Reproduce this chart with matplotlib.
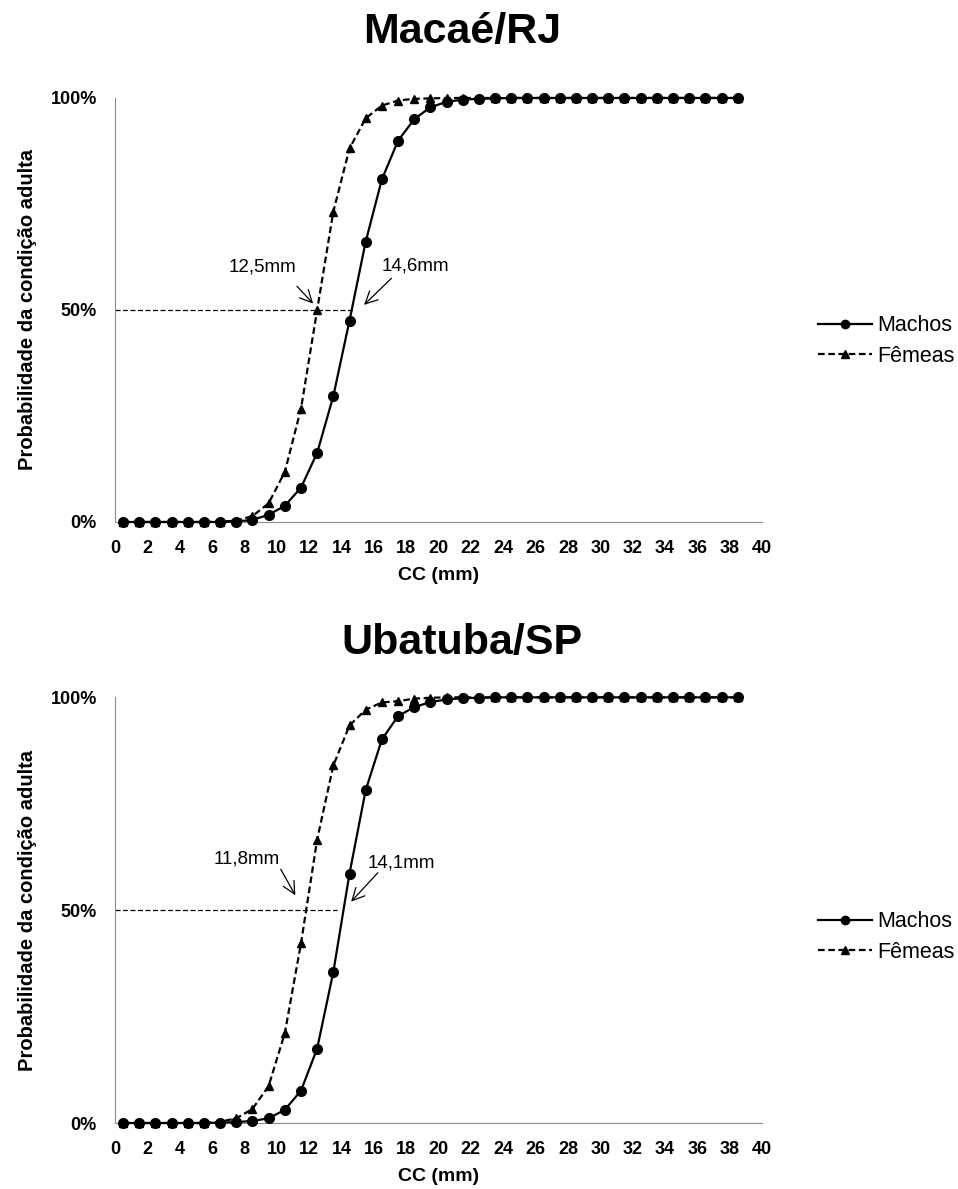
import matplotlib
matplotlib.use("Agg")
from matplotlib import pyplot as plt
from matplotlib.lines import Line2D

plt.rcParams['font.family'] = ['Liberation Sans', 'DejaVu Sans']

# comprimento de carapaça (mm), centro de cada classe
cc = [i + 0.5 for i in range(39)]

# Macaé/RJ
macae_machos = [0, 0, 0, 0, 0, 0, 0, 0.001, 0.005, 0.017, 0.038, 0.081, 0.163, 0.297,
                0.475, 0.661, 0.808, 0.899, 0.950, 0.978, 0.991, 0.996, 0.998, 0.999] + [1.0] * 15
macae_femeas = [0, 0, 0, 0, 0, 0, 0.001, 0.003, 0.014, 0.044, 0.118, 0.267, 0.500, 0.732,
                0.881, 0.952, 0.982, 0.994, 0.998, 0.999] + [1.0] * 19

# Ubatuba/SP
ubatuba_machos = [0, 0, 0, 0, 0, 0, 0.001, 0.002, 0.005, 0.011, 0.031, 0.076, 0.175, 0.355,
                  0.586, 0.782, 0.901, 0.956, 0.977, 0.989, 0.995, 0.998, 0.999] + [1.0] * 16
ubatuba_femeas = [0, 0, 0, 0, 0, 0, 0.003, 0.011, 0.033, 0.087, 0.211, 0.422, 0.666, 0.840,
                  0.934, 0.971, 0.988, 0.991, 0.997, 0.999] + [1.0] * 19

titles = ["Macaé/RJ", "Ubatuba/SP"]
l50_machos = ["14,6mm", "14,1mm"]
l50_femeas = ["12,5mm", "11,8mm"]
hline_end = [14.7, 13.7]

# posições das anotações (texto, cauda da seta, ponta da seta)
ann_femeas = [((9.1, 0.602), (11.25, 0.556), (12.25, 0.515)),
              ((8.15, 0.621), (10.25, 0.596), (11.15, 0.535))]
ann_machos = [((18.6, 0.604), (17.1, 0.575), (15.4, 0.512)),
              ((17.7, 0.612), (16.25, 0.588), (14.6, 0.52))]

fig = plt.figure(figsize=(9.58, 11.89), dpi=100)
ax1 = fig.add_axes([0.120, 0.561, 0.6754, 0.3566])
ax2 = fig.add_axes([0.120, 0.0555, 0.6754, 0.358])

series = [(macae_machos, macae_femeas), (ubatuba_machos, ubatuba_femeas)]
title_y = [1 - 32 / 1189, 1 - 643 / 1189]
legend_y = [0.427, 0.437]
axis_gray = "#8c8c8c"

for k, ax in enumerate([ax1, ax2]):
    machos, femeas = series[k]
    ax.plot(cc, machos, color="black", lw=1.6, marker="o", markersize=7,
            clip_on=False, zorder=4)
    ax.plot(cc, femeas, color="black", lw=1.6, ls=(0, (3, 1.6)), marker="^",
            markersize=6.3, clip_on=False, zorder=3)
    ax.plot([0, hline_end[k]], [0.5, 0.5], color="black", lw=0.9, ls=(0, (4, 2)), zorder=2)

    for txt, ann in [(l50_femeas[k], ann_femeas[k]), (l50_machos[k], ann_machos[k])]:
        ax.text(ann[0][0], ann[0][1], txt, fontsize=13.5, ha="center", va="center")
        ax.annotate("", xy=ann[2], xytext=ann[1],
                    arrowprops=dict(arrowstyle="->", color="black", lw=0.9,
                                    mutation_scale=22, shrinkA=0, shrinkB=0))

    ax.set_xlim(0, 40)
    ax.set_ylim(0, 1)
    ax.set_xticks(range(0, 41, 2))
    ax.set_yticks([0, 0.5, 1])
    ax.set_yticklabels(["0%", "50%", "100%"])
    ax.tick_params(length=0, labelsize=13)
    ax.tick_params(axis="x", pad=13)
    ax.tick_params(axis="y", pad=13)
    for lab in ax.get_xticklabels() + ax.get_yticklabels():
        lab.set_fontweight("bold")
    ax.spines["top"].set_visible(False)
    ax.spines["right"].set_visible(False)
    ax.spines["left"].set_color(axis_gray)
    ax.spines["bottom"].set_color(axis_gray)
    ax.set_xlabel("CC (mm)", fontsize=14, fontweight="bold", labelpad=7)
    ax.set_ylabel("Probabilidade da condição adulta", fontsize=14.5, fontweight="bold",
                  labelpad=10)

    fig.text(0.482, title_y[k], titles[k], fontsize=31, fontweight="bold",
             ha="center", va="center")

    handles = [Line2D([], [], color="black", lw=1.6, marker="o", markersize=6),
               Line2D([], [], color="black", lw=1.6, ls=(0, (3, 1.6)), marker="^", markersize=6)]
    ax.legend(handles, ["Machos", "Fêmeas"], loc="center left",
              bbox_to_anchor=(1.057, legend_y[k]), frameon=False, fontsize=15.5,
              handlelength=2.5, handletextpad=0.25, labelspacing=0.45)

fig.savefig("out.png", dpi=100)
